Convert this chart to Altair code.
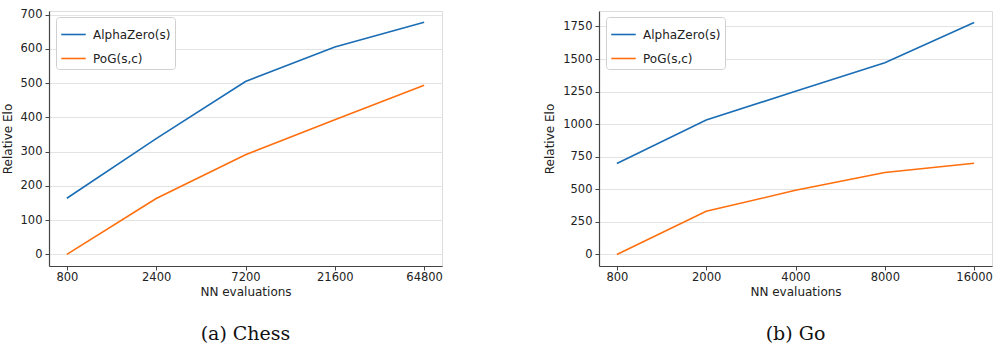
import altair as alt
import pandas as pd

chess_x = ["800", "2400", "7200", "21600", "64800"]
chess_alpha = [164, 338, 505, 606, 678]
chess_pog = [0, 163, 291, 393, 494]

go_x = ["800", "2000", "4000", "8000", "16000"]
go_alpha = [698, 1032, 1252, 1472, 1780]
go_pog = [0, 331, 492, 629, 700]

series = ["AlphaZero(s)", "PoG(s,c)"]
colors = ["#1a6db5", "#ff6f0e"]

FONT = "DejaVu Sans"


def make_df(xs, a, p):
    rows = []
    for i, x in enumerate(xs):
        rows.append({"x": x, "order": i, "series": series[0], "elo": a[i]})
    for i, x in enumerate(xs):
        rows.append({"x": x, "order": i, "series": series[1], "elo": p[i]})
    return pd.DataFrame(rows)


def panel(xs, a, p, ydom, yvals, caption):
    df = make_df(xs, a, p)
    return alt.Chart(df).mark_line(strokeWidth=1.6).encode(
        x=alt.X("x:N", sort=xs,
                scale=alt.Scale(type="point", padding=0.2),
                axis=alt.Axis(title="NN evaluations", labelAngle=0, grid=False,
                              labelFont=FONT, titleFont=FONT, labelFontSize=11.5,
                              titleFontSize=12, titleFontWeight="normal",
                              labelColor="#222", titleColor="#222",
                              domainColor="#444", tickColor="#444",
                              domainWidth=1.2, tickSize=4, labelPadding=1,
                              titlePadding=4)),
        y=alt.Y("elo:Q", scale=alt.Scale(domain=ydom, nice=False, zero=False),
                axis=alt.Axis(title="Relative Elo", values=yvals, format="d",
                              grid=True,
                              gridColor="#e3e3e3", gridWidth=1.2,
                              labelFont=FONT, titleFont=FONT, labelFontSize=11.5,
                              titleFontSize=12, titleFontWeight="normal",
                              labelColor="#222", titleColor="#222",
                              domainColor="#444", tickColor="#444",
                              domainWidth=1.2, tickSize=4, labelPadding=3,
                              titlePadding=6)),
        color=alt.Color("series:N", sort=series,
                        scale=alt.Scale(domain=series, range=colors),
                        legend=alt.Legend(title=None, orient="none",
                                          legendX=7, legendY=6,
                                          symbolType="stroke", symbolSize=600,
                                          symbolStrokeWidth=1.6,
                                          labelFont=FONT, labelFontSize=12,
                                          labelColor="#222", labelOffset=6,
                                          strokeColor="#d0d0d0", padding=4,
                                          cornerRadius=3, fillColor="white",
                                          rowPadding=4)),
        order="order:Q",
    ).properties(
        width=393, height=255,
        title=alt.TitleParams(caption, orient="bottom", font="DejaVu Serif",
                              fontSize=19, fontWeight="normal", color="#111",
                              offset=27),
    )


left = panel(chess_x, chess_alpha, chess_pog, [-34, 711],
             [0, 100, 200, 300, 400, 500, 600, 700], "(a) Chess")
right = panel(go_x, go_alpha, go_pog, [-89, 1869],
              [0, 250, 500, 750, 1000, 1250, 1500, 1750], "(b) Go")

chart = alt.hconcat(left, right, spacing=100).resolve_scale(
    color="independent", x="independent", y="independent"
).properties(
    padding={"left": 0, "top": 8, "right": 5, "bottom": 5}
).configure_view(stroke=None).configure(background="white")

chart.save("out.html", embed_options={"renderer": "svg", "actions": False})
